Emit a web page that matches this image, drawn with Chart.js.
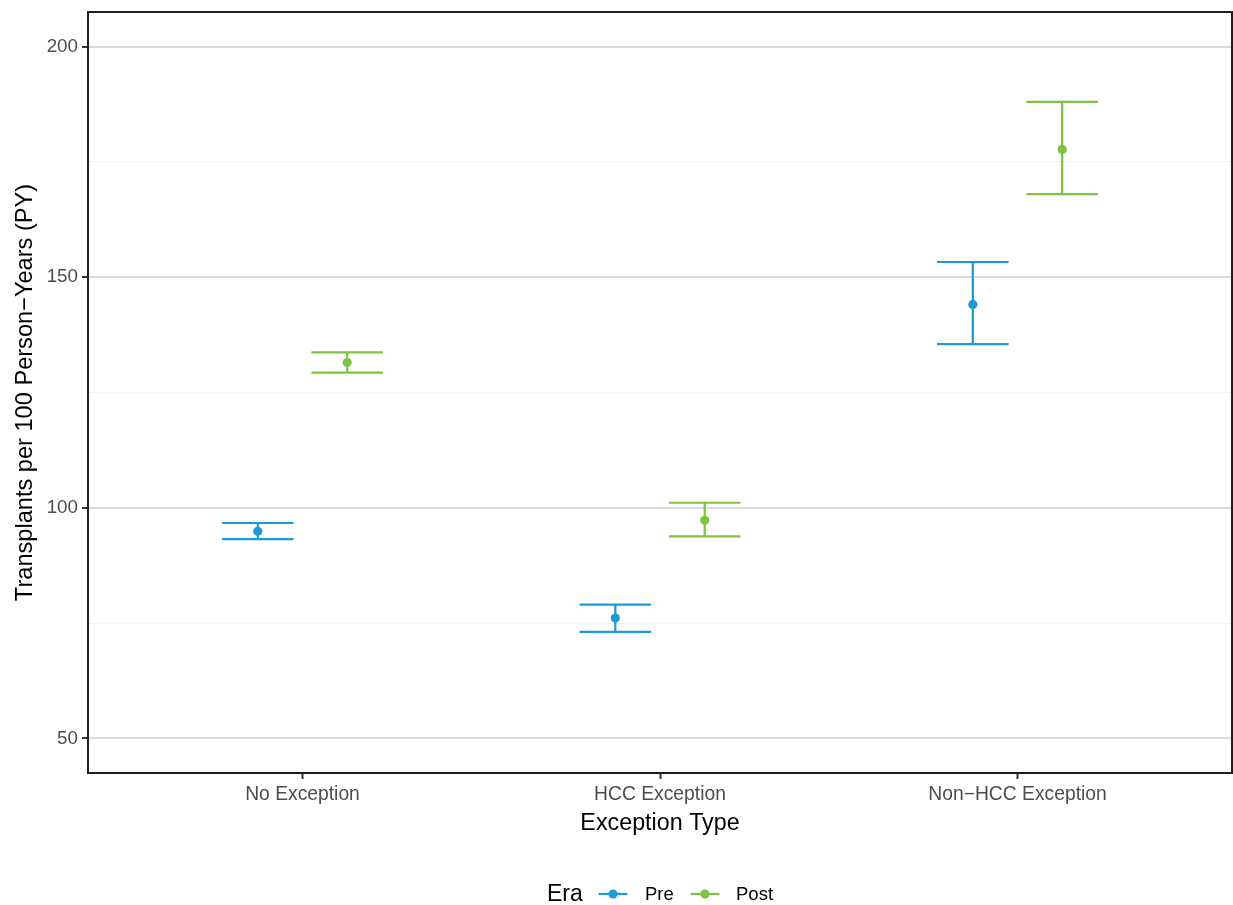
<!DOCTYPE html>
<html>
<head>
<meta charset="utf-8">
<script src="https://cdn.jsdelivr.net/npm/chart.js@4.4.1/dist/chart.umd.min.js"></script>
<style>
  html, body { margin: 0; padding: 0; background: #fff; }
  #wrap { position: relative; width: 1233px; height: 905px; overflow: hidden; }
  canvas { display: block; }
  .lg { position: absolute; white-space: nowrap; line-height: 1; font-family: "Liberation Sans", Arial, sans-serif; }
</style>
</head>
<body>
<div id="wrap">
  <canvas id="c" width="1233" height="905"></canvas>
  <div id="legend"></div>
</div>
<script>
// Transplant rates per 100 person-years with 95% intervals, by exception type and era
const categories = ['No Exception', 'HCC Exception', 'Non\u2212HCC Exception'];
const eras = ['Pre', 'Post'];

const preRate  = [94.9, 76.1, 144.1];
const preLower = [93.2, 73.1, 135.5];
const preUpper = [96.7, 79.0, 153.3];

const postRate  = [131.5, 97.3, 177.7];
const postLower = [129.3, 93.8, 168.0];
const postUpper = [133.7, 101.1, 188.0];

const yMajorTicks = [50, 100, 150, 200];
const yMinorTicks = [75, 125, 175];

const xTitle = 'Exception Type';
const yTitle = 'Transplants per 100 Person\u2212Years (PY)';
const legendTitle = 'Era';

const COLORS = { Pre: '#1C9AD6', Post: '#7EC244' };
const FONT = '"Liberation Sans", Arial, sans-serif';
const DODGE = 0.125;     // half of the dodge width
const CAP = 0.1;         // half of the error-bar cap width

// Build an error-bar path (top cap, stem, bottom cap) as line segments separated by gaps
function errorPath(lower, upper, shift) {
  const pts = [];
  categories.forEach((c, i) => {
    const x = i + 1 + shift;
    pts.push({ x: x - CAP, y: upper[i] }, { x: x + CAP, y: upper[i] }, { x: x, y: null });
    pts.push({ x: x, y: upper[i] }, { x: x, y: lower[i] }, { x: x, y: null });
    pts.push({ x: x - CAP, y: lower[i] }, { x: x + CAP, y: lower[i] }, { x: x, y: null });
  });
  return pts;
}
function pointSet(rate, shift) {
  return categories.map((c, i) => ({ x: i + 1 + shift, y: rate[i] }));
}

const series = [
  { era: 'Pre',  rate: preRate,  lower: preLower,  upper: preUpper,  shift: -DODGE },
  { era: 'Post', rate: postRate, lower: postLower, upper: postUpper, shift: DODGE }
];

const datasets = [];
series.forEach(s => {
  datasets.push({
    type: 'scatter',
    label: s.era,
    data: pointSet(s.rate, s.shift),
    backgroundColor: COLORS[s.era],
    borderWidth: 0,
    pointRadius: 4.6,
    pointHoverRadius: 4.6,
    order: 0
  });
});
series.forEach(s => {
  datasets.push({
    type: 'line',
    label: s.era + ' interval',
    data: errorPath(s.lower, s.upper, s.shift),
    borderColor: COLORS[s.era],
    borderWidth: 2.2,
    borderCapStyle: 'butt',
    pointRadius: 0,
    pointHoverRadius: 0,
    spanGaps: false,
    fill: false,
    tension: 0,
    order: 1
  });
});

// Full rectangular panel border drawn on top of the plot area
const panelBorder = {
  id: 'panelBorder',
  afterDraw(chart) {
    const { ctx, chartArea: a } = chart;
    ctx.save();
    ctx.strokeStyle = '#1f1f1f';
    ctx.lineWidth = 2;
    ctx.strokeRect(a.left, a.top, a.right - a.left, a.bottom - a.top);
    ctx.restore();
  }
};

const isMajor = v => yMajorTicks.includes(v);
// Axis boxes keep a fixed size and add no extra edge padding around the plot area
const noEdgePadding = s => { s.paddingTop = 0; s.paddingBottom = 0; s.paddingLeft = 0; s.paddingRight = 0; };

new Chart(document.getElementById('c'), {
  type: 'scatter',
  data: { datasets },
  options: {
    responsive: false,
    animation: false,
    devicePixelRatio: 1,
    layout: { autoPadding: false, padding: { top: 12, right: 1, bottom: 67, left: 0 } },
    plugins: { legend: { display: false }, tooltip: { enabled: false } },
    scales: {
      x: {
        type: 'linear',
        min: 0.4,
        max: 3.6,
        afterBuildTicks: s => { s.ticks = categories.map((c, i) => ({ value: i + 1 })); },
        afterFit: s => { s.height = 65; noEdgePadding(s); },
        ticks: {
          autoSkip: false,
          maxRotation: 0,
          padding: 4,
          color: '#4D4D4D',
          font: { family: FONT, size: 19.3 },
          callback: (v, i) => categories[i]
        },
        grid: { drawOnChartArea: false, drawTicks: true, tickLength: 6, tickColor: '#333333', tickWidth: 2 },
        border: { display: false },
        title: {
          display: true,
          text: xTitle,
          color: '#000000',
          font: { family: FONT, size: 23.3 },
          padding: { top: 0, bottom: 0 }
        }
      },
      y: {
        type: 'linear',
        min: 42.5,
        max: 207.5,
        afterBuildTicks: s => {
          s.ticks = [...yMajorTicks, ...yMinorTicks].sort((a, b) => a - b).map(v => ({ value: v }));
        },
        afterFit: s => { s.width = 88; noEdgePadding(s); },
        ticks: {
          autoSkip: false,
          padding: 4,
          color: '#4D4D4D',
          font: { family: FONT, size: 18.8 },
          callback: v => (isMajor(v) ? String(v) : '')
        },
        grid: {
          color: c => (c.tick && isMajor(c.tick.value) ? '#DCDCDC' : '#F1F1F1'),
          lineWidth: c => (c.tick && isMajor(c.tick.value) ? 2 : 1.1),
          tickColor: c => (c.tick && isMajor(c.tick.value) ? '#333333' : 'rgba(0,0,0,0)'),
          tickWidth: 2,
          tickLength: 6,
          drawTicks: true
        },
        border: { display: false },
        title: {
          display: true,
          text: yTitle,
          color: '#000000',
          font: { family: FONT, size: 23.6 },
          padding: { top: 11, bottom: 0 }
        }
      }
    }
  },
  plugins: [panelBorder]
});

// Legend below the plot: title, then a path-with-point key and label per era
const legend = document.getElementById('legend');
function addText(text, left, top, size) {
  const el = document.createElement('div');
  el.className = 'lg';
  el.textContent = text;
  el.style.left = left + 'px';
  el.style.top = top + 'px';
  el.style.fontSize = size + 'px';
  el.style.color = '#000';
  legend.appendChild(el);
}
function addKey(color, left, top) {
  const ns = 'http://www.w3.org/2000/svg';
  const svg = document.createElementNS(ns, 'svg');
  svg.setAttribute('width', '36');
  svg.setAttribute('height', '20');
  svg.style.position = 'absolute';
  svg.style.left = left + 'px';
  svg.style.top = top + 'px';
  const line = document.createElementNS(ns, 'line');
  line.setAttribute('x1', '3.6'); line.setAttribute('x2', '32.4');
  line.setAttribute('y1', '10'); line.setAttribute('y2', '10');
  line.setAttribute('stroke', color); line.setAttribute('stroke-width', '2.2');
  const dot = document.createElementNS(ns, 'circle');
  dot.setAttribute('cx', '18'); dot.setAttribute('cy', '10'); dot.setAttribute('r', '4.6');
  dot.setAttribute('fill', color);
  svg.appendChild(line); svg.appendChild(dot);
  legend.appendChild(svg);
}
addText(legendTitle, 547, 882, 23);
const keyLefts = [595, 687];
const labelLefts = [645, 736];
eras.forEach((e, i) => {
  addKey(COLORS[e], keyLefts[i], 884);
  addText(e, labelLefts[i], 885, 18.5);
});
</script>
</body>
</html>
